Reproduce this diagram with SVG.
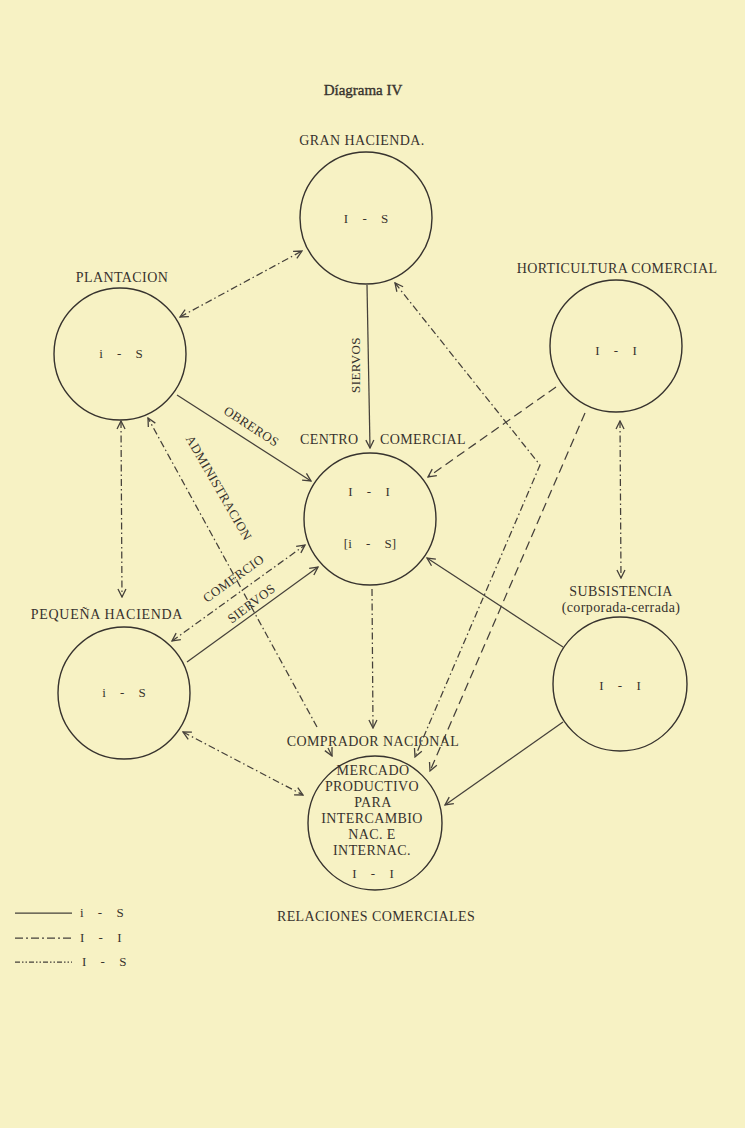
<svg xmlns="http://www.w3.org/2000/svg" width="745" height="1128" viewBox="0 0 745 1128">
<style>
  text { font-family: "Liberation Serif", "Times New Roman", serif; fill: #37332e; font-size: 14px; letter-spacing: 0.4px; }
  .mid { text-anchor: middle; }
  .in { font-size: 13px; word-spacing: 11px; letter-spacing: 0; }
  .node circle { fill: none; stroke: #37332e; stroke-width: 1.4; }
  .c { fill: none; stroke: #45403a; stroke-width: 1.25; }
  .dash { stroke-dasharray: 9 5; }
  .dd { stroke-dasharray: 7 3 1.5 3; }
  .lab { font-size: 13px; }
</style>
<defs>
  <marker id="arr" viewBox="0 0 10 10" refX="9" refY="5" markerWidth="10" markerHeight="10" markerUnits="userSpaceOnUse" orient="auto-start-reverse">
    <path d="M1,1 L9,5 L1,9" fill="none" stroke="#45403a" stroke-width="1.3"/>
  </marker>
</defs>
<rect x="0" y="0" width="745" height="1128" fill="#f7f2c4"/>

<text x="363" y="95" class="mid" style="font-size:15px;letter-spacing:0;stroke:#37332e;stroke-width:0.35">Díagrama IV</text>

<g id="gran-hacienda" class="node">
  <circle cx="366" cy="218" r="66"/>
  <text x="362" y="145" class="mid">GRAN HACIENDA.</text>
  <text x="366" y="223" class="mid in">I - S</text>
</g>
<g id="plantacion" class="node">
  <circle cx="120" cy="354" r="66"/>
  <text x="122" y="282" class="mid">PLANTACION</text>
  <text x="121" y="358" class="mid in">i - S</text>
</g>
<g id="horticultura" class="node">
  <circle cx="616" cy="346" r="66"/>
  <text x="617" y="273" class="mid">HORTICULTURA COMERCIAL</text>
  <text x="616" y="355" class="mid in">I - I</text>
</g>
<g id="centro" class="node">
  <circle cx="370" cy="519" r="66"/>
  <text x="300" y="444">CENTRO</text>
  <text x="380" y="444">COMERCIAL</text>
  <text x="369" y="496" class="mid in">I - I</text>
  <text x="370" y="548" class="mid in">[i - S]</text>
</g>
<g id="subsistencia" class="node">
  <circle cx="620" cy="684" r="67"/>
  <text x="621" y="596" class="mid">SUBSISTENCIA</text>
  <text x="621" y="612" class="mid">(corporada-cerrada)</text>
  <text x="620" y="690" class="mid in">I - I</text>
</g>
<g id="pequena-hacienda" class="node">
  <circle cx="124" cy="693" r="66"/>
  <text x="107" y="619" class="mid" style="letter-spacing:0.7px">PEQUEÑA HACIENDA</text>
  <text x="124" y="697" class="mid in">i - S</text>
</g>
<g id="mercado" class="node">
  <circle cx="375" cy="823" r="67"/>
  <text x="373" y="746" class="mid">COMPRADOR NACIONAL</text>
  <text x="373" y="775" class="mid">MERCADO</text>
  <text x="372" y="791" class="mid">PRODUCTIVO</text>
  <text x="373" y="807" class="mid">PARA</text>
  <text x="372" y="823" class="mid">INTERCAMBIO</text>
  <text x="372" y="839" class="mid">NAC. E</text>
  <text x="372" y="855" class="mid">INTERNAC.</text>
  <text x="373" y="878" class="mid in">I - I</text>
</g>

<g id="connectors">
  <line class="c dd" x1="180" y1="317" x2="302" y2="251" marker-start="url(#arr)" marker-end="url(#arr)"/>
  <line class="c" x1="367" y1="285" x2="370" y2="448" marker-end="url(#arr)"/>
  <line class="c" x1="177" y1="395" x2="311" y2="481" marker-end="url(#arr)"/>
  <polyline class="c dd" points="317,727 148,418" marker-end="url(#arr)"/>
  <line class="c" x1="328" y1="748" x2="332" y2="756" marker-end="url(#arr)"/>
  <line class="c dd" x1="121" y1="421" x2="122" y2="597" marker-start="url(#arr)" marker-end="url(#arr)"/>
  <line class="c dd" x1="172" y1="641" x2="305" y2="545" marker-start="url(#arr)" marker-end="url(#arr)"/>
  <line class="c" x1="187" y1="662" x2="318" y2="567" marker-end="url(#arr)"/>
  <line class="c dd" x1="183" y1="732" x2="303" y2="795" marker-start="url(#arr)" marker-end="url(#arr)"/>
  <line class="c dd" x1="372" y1="589" x2="373" y2="728" marker-end="url(#arr)"/>
  <polyline class="c dd" points="395,283 540,465 415,757" marker-start="url(#arr)" marker-end="url(#arr)"/>
  <line class="c dash" x1="556" y1="387" x2="428" y2="477" marker-end="url(#arr)"/>
  <line class="c dash" x1="585" y1="413" x2="430" y2="771" marker-end="url(#arr)"/>
  <line class="c dd" x1="620" y1="421" x2="621" y2="578" marker-start="url(#arr)" marker-end="url(#arr)"/>
  <line class="c" x1="563" y1="647" x2="427" y2="558" marker-end="url(#arr)"/>
  <line class="c" x1="563" y1="722" x2="445" y2="805" marker-end="url(#arr)"/>

  <text transform="translate(360,365) rotate(-90)" class="mid lab">SIERVOS</text>
  <text transform="translate(249,430) rotate(33)" class="mid lab">OBREROS</text>
  <text transform="translate(215,490) rotate(60)" class="mid lab">ADMINISTRACION</text>
  <text transform="translate(236,582) rotate(-36)" class="mid lab">COMERCIO</text>
  <text transform="translate(254,607) rotate(-37)" class="mid lab">SIERVOS</text>
</g>

<g id="legend">
  <line class="c" x1="15" y1="913" x2="72" y2="913"/>
  <text x="80" y="917" class="in">i - S</text>
  <line class="c" x1="15" y1="938" x2="72" y2="938" style="stroke-dasharray:8 3 2 3"/>
  <text x="80" y="942" class="in">I - I</text>
  <line class="c" x1="15" y1="962" x2="72" y2="962" style="stroke-dasharray:5 2 1.5 2 1.5 2"/>
  <text x="82" y="966" class="in">I - S</text>
  <text x="376" y="921" class="mid">RELACIONES COMERCIALES</text>
</g>
</svg>
